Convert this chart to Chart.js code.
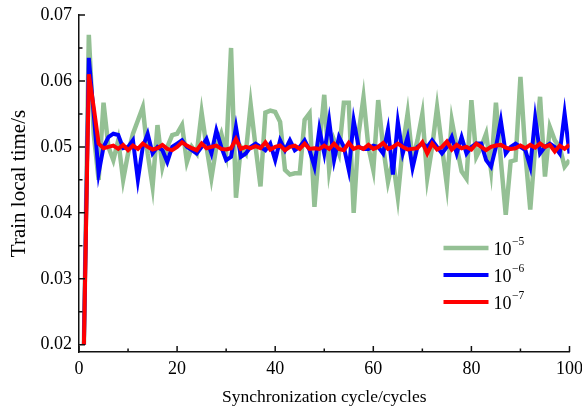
<!DOCTYPE html>
<html>
<head>
<meta charset="utf-8">
<script src="https://cdn.jsdelivr.net/npm/chart.js@4/dist/chart.umd.min.js"></script>
<style>
html,body{margin:0;padding:0;background:#fff;}
#wrap{width:582px;height:408px;position:relative;}
</style>
</head>
<body>
<div id="wrap"><canvas id="c" width="582" height="408"></canvas></div>
<script>
// ---- data ----
const cycles = Array.from({length: 100}, (_, i) => i + 1);
const series5 = [0.020,0.067,0.052,0.045,0.0567,0.050,0.048,0.051,0.045,0.049,
  0.052,0.054,0.056,0.049,0.044,0.0533,0.047,0.050,0.0518,0.052,
  0.0533,0.0477,0.050,0.049,0.0552,0.050,0.0453,0.050,0.052,0.049,
  0.065,0.0423,0.050,0.049,0.0564,0.050,0.044,0.0552,0.0555,0.0553,
  0.0538,0.0465,0.0458,0.046,0.046,0.0541,0.0551,0.0409,0.050,0.0579,
  0.0465,0.051,0.049,0.0567,0.0567,0.040,0.052,0.0575,0.050,0.0465,
  0.0571,0.050,0.0447,0.048,0.0424,0.050,0.0551,0.048,0.051,0.055,
  0.0453,0.050,0.056,0.050,0.0442,0.054,0.050,0.0463,0.0452,0.0571,
  0.0485,0.050,0.052,0.0465,0.0567,0.048,0.0397,0.0478,0.048,0.0606,
  0.049,0.0405,0.050,0.0576,0.0455,0.053,0.051,0.050,0.047,0.048];
const series6 = [0.020,0.0635,0.055,0.046,0.050,0.0515,0.052,0.0518,0.0498,0.050,
  0.051,0.045,0.050,0.052,0.049,0.050,0.0495,0.0477,0.050,0.0505,
  0.051,0.050,0.0495,0.049,0.050,0.0512,0.049,0.0525,0.050,0.048,
  0.0485,0.053,0.0485,0.049,0.050,0.0505,0.050,0.0495,0.0505,0.048,
  0.051,0.0495,0.051,0.0495,0.050,0.051,0.0495,0.047,0.0527,0.049,
  0.054,0.048,0.0515,0.050,0.0465,0.054,0.050,0.0497,0.0497,0.0502,
  0.050,0.049,0.0527,0.0458,0.0538,0.049,0.0515,0.0468,0.050,0.0505,
  0.050,0.051,0.050,0.049,0.050,0.0515,0.049,0.0515,0.049,0.050,
  0.0505,0.0505,0.048,0.047,0.050,0.054,0.049,0.050,0.0505,0.050,
  0.0495,0.047,0.0544,0.049,0.050,0.0505,0.050,0.049,0.0551,0.049];
const series7 = [0.020,0.061,0.056,0.0505,0.0498,0.050,0.0502,0.0497,0.0503,0.0495,
  0.0502,0.0497,0.0505,0.050,0.0496,0.0498,0.0503,0.0497,0.0495,0.050,
  0.0507,0.0502,0.0498,0.0495,0.0505,0.0498,0.050,0.0502,0.0497,0.0496,
  0.0498,0.0512,0.0497,0.050,0.0498,0.0501,0.0498,0.0507,0.0496,0.050,
  0.0502,0.0495,0.050,0.0502,0.0497,0.0505,0.0497,0.0498,0.0497,0.0502,
  0.0497,0.0505,0.0497,0.0495,0.0506,0.0497,0.050,0.0497,0.0503,0.0497,
  0.050,0.0506,0.0497,0.050,0.0505,0.050,0.0496,0.0497,0.0498,0.0507,
  0.049,0.0505,0.0496,0.050,0.0508,0.0496,0.0503,0.0498,0.050,0.0496,
  0.0505,0.050,0.0495,0.050,0.0502,0.0503,0.0499,0.0497,0.0498,0.0502,
  0.0498,0.0503,0.0499,0.0505,0.050,0.0503,0.0493,0.0502,0.0497,0.0503];
const seriesBase = "10";
const seriesExp = ["\u22125", "\u22126", "\u22127"];
const yTickValues = [0.02, 0.03, 0.04, 0.05, 0.06, 0.07];
const yMinorValues = [0.025, 0.035, 0.045, 0.055, 0.065];
const xTickValues = [0, 20, 40, 60, 80, 100];
const xMinorValues = [10, 30, 50, 70, 90];
const xTitle = "Synchronization cycle/cycles";
const yTitle = "Train local time/s";

// ---- styles ----
const colors = ["#94c094", "#0000ff", "#ff0000"];
const widths = [4.5, 4, 4];
const FONT = "Liberation Serif";

const toXY = arr => arr.map((v, i) => ({x: cycles[i], y: v}));

const ticksPlugin = {
  id: 'innerTicks',
  afterDraw(chart) {
    const ctx = chart.ctx, xs = chart.scales.x, ys = chart.scales.y;
    const a = chart.chartArea;
    ctx.save();
    ctx.strokeStyle = '#111';
    ctx.lineWidth = 1.5;
    ctx.beginPath();
    xTickValues.forEach(v => { const p = xs.getPixelForValue(v); ctx.moveTo(p, a.bottom); ctx.lineTo(p, a.bottom - 6); });
    xMinorValues.forEach(v => { const p = xs.getPixelForValue(v); ctx.moveTo(p, a.bottom); ctx.lineTo(p, a.bottom - 3.5); });
    yTickValues.forEach(v => { const p = ys.getPixelForValue(v); ctx.moveTo(a.left, p); ctx.lineTo(a.left + 6, p); });
    yMinorValues.forEach(v => { const p = ys.getPixelForValue(v); ctx.moveTo(a.left, p); ctx.lineTo(a.left + 3.5, p); });
    ctx.stroke();

    // legend
    const lx1 = a.right - 126, lx2 = a.right - 81, tx = a.right - 76;
    const rows = [a.top + 233, a.top + 260, a.top + 287];
    rows.forEach((ry, k) => {
      ctx.strokeStyle = colors[k];
      ctx.lineWidth = widths[k];
      ctx.beginPath(); ctx.moveTo(lx1, ry); ctx.lineTo(lx2, ry); ctx.stroke();
      ctx.fillStyle = '#000';
      ctx.textBaseline = 'alphabetic';
      ctx.textAlign = 'left';
      ctx.font = '18px "' + FONT + '"';
      ctx.fillText(seriesBase, tx, ry + 7);
      const w = ctx.measureText(seriesBase).width;
      ctx.font = '11.5px "' + FONT + '"';
      ctx.fillText(seriesExp[k], tx + w + 0.5, ry - 3);
    });
    ctx.restore();
  }
};

new Chart(document.getElementById('c'), {
  type: 'line',
  data: {
    datasets: [
      {label: '10-7', data: toXY(series7), borderColor: colors[2], borderWidth: widths[2], order: 1},
      {label: '10-6', data: toXY(series6), borderColor: colors[1], borderWidth: widths[1], order: 2},
      {label: '10-5', data: toXY(series5), borderColor: colors[0], borderWidth: widths[0], order: 3}
    ]
  },
  options: {
    responsive: false,
    animation: false,
    events: [],
    elements: {point: {radius: 0}, line: {tension: 0, fill: false, borderJoinStyle: 'miter'}},
    layout: {padding: {top: 15, right: 0, left: 0, bottom: 0}},
    plugins: {legend: {display: false}, tooltip: {enabled: false}},
    scales: {
      x: {
        type: 'linear', min: 0, max: 100,
        afterBuildTicks: s => { s.ticks = xTickValues.map(v => ({value: v})); },
        afterFit: s => { s.height = 56; s.paddingLeft = 0; s.paddingRight = 12.5; },
        grid: {display: true, color: 'rgba(0,0,0,0)', drawTicks: false},
        border: {display: true, color: '#111', width: 1.5},
        ticks: {color: '#000', font: {family: FONT, size: 18}, padding: 6, maxRotation: 0, autoSkip: false},
        title: {display: true, text: xTitle, color: '#000', font: {family: FONT, size: 17.5}, padding: {top: 0, bottom: 0}}
      },
      y: {
        type: 'linear', min: 0.0189, max: 0.07,
        afterBuildTicks: s => { s.ticks = yTickValues.map(v => ({value: v})); },
        afterFit: s => { s.width = 79; s.paddingTop = 0; s.paddingBottom = 0; },
        grid: {display: true, color: 'rgba(0,0,0,0)', drawTicks: false},
        border: {display: true, color: '#111', width: 1.5},
        ticks: {color: '#000', font: {family: FONT, size: 18}, padding: 7, callback: v => v.toFixed(2)},
        title: {display: true, text: yTitle, color: '#000', font: {family: FONT, size: 21}, padding: {top: 7, bottom: 0}}
      }
    }
  },
  plugins: [ticksPlugin]
});
</script>
</body>
</html>
